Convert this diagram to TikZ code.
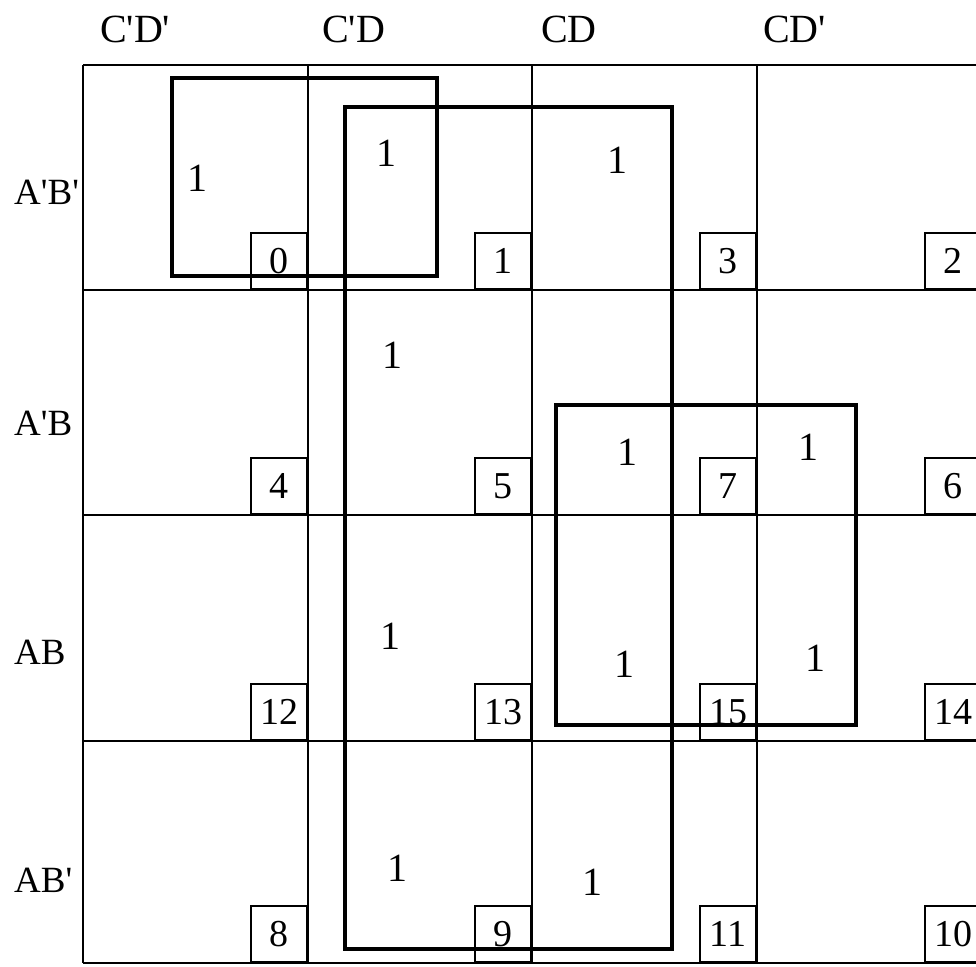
\documentclass[tikz,border=0pt]{standalone}
\usepackage{fontspec}
\setmainfont{Liberation Serif}
\newfontfamily\kmapfont{Liberation Serif}
\begin{document}
\begin{tikzpicture}[x=1pt,y=-1pt,
  gridline/.style={line width=1.6pt},
  grouploop/.style={line width=3.6pt, line join=miter},
  numbox/.style={draw, line width=1.6pt, minimum width=56pt, minimum height=56pt,
    anchor=south east, inner sep=0pt, font=\kmapfont\fontsize{38}{40}\selectfont},
  onetext/.style={inner sep=0pt, font=\kmapfont\fontsize{40}{44}\selectfont},
  headtext/.style={inner sep=0pt, anchor=base west, font=\kmapfont\fontsize{40}{44}\selectfont},
  rowtext/.style={inner sep=0pt, anchor=west, font=\kmapfont\fontsize{37}{42}\selectfont}]
\useasboundingbox (0,0) rectangle (976,966);
% grid
\foreach \x in {83,308,532,757,982} \draw[gridline] (\x,65) -- (\x,963);
\foreach \y in {65,290,515,741,963} \draw[gridline] (83,\y) -- (982,\y);
% headers
\node[headtext] (h0) at (100,43) {C'D'};
\node[headtext] (h1) at (322,43) {C'D};
\node[headtext] (h2) at (541,43) {CD};
\node[headtext] (h3) at (763,43) {CD'};
% row labels
\node[rowtext] (r0) at (14,192) {A'B'};
\node[rowtext] (r1) at (14,423) {A'B};
\node[rowtext] (r2) at (14,652) {AB};
\node[rowtext] (r3) at (14,880) {AB'};
% cell number boxes
\foreach \lab/\cx/\cy in {0/308/290,1/532/290,3/757/290,2/982/290,
  4/308/515,5/532/515,7/757/515,6/982/515,
  12/308/741,13/532/741,15/757/741,14/982/741,
  8/308/963,9/532/963,11/757/963,10/982/963}
  \node[numbox] (b\lab) at (\cx,\cy) {\lab};
% ones
\node[onetext] (o0) at (197,178) {1};
\node[onetext] (o1) at (386,153) {1};
\node[onetext] (o3) at (617,160) {1};
\node[onetext] (o5) at (392,355) {1};
\node[onetext] (o7) at (627,452) {1};
\node[onetext] (o6) at (808,447) {1};
\node[onetext] (o13) at (390,636) {1};
\node[onetext] (o15) at (624,664) {1};
\node[onetext] (o14) at (815,658) {1};
\node[onetext] (o9) at (397,868) {1};
\node[onetext] (o11) at (592,882) {1};
% groups
\coordinate (g1a) at (172,78);  \coordinate (g1b) at (437,276);
\coordinate (g2a) at (345,107); \coordinate (g2b) at (672,949);
\coordinate (g3a) at (556,405); \coordinate (g3b) at (856,725);
\draw[grouploop] (g1a) rectangle (g1b);
\draw[grouploop] (g2a) rectangle (g2b);
\draw[grouploop] (g3a) rectangle (g3b);
\end{tikzpicture}
\end{document}
